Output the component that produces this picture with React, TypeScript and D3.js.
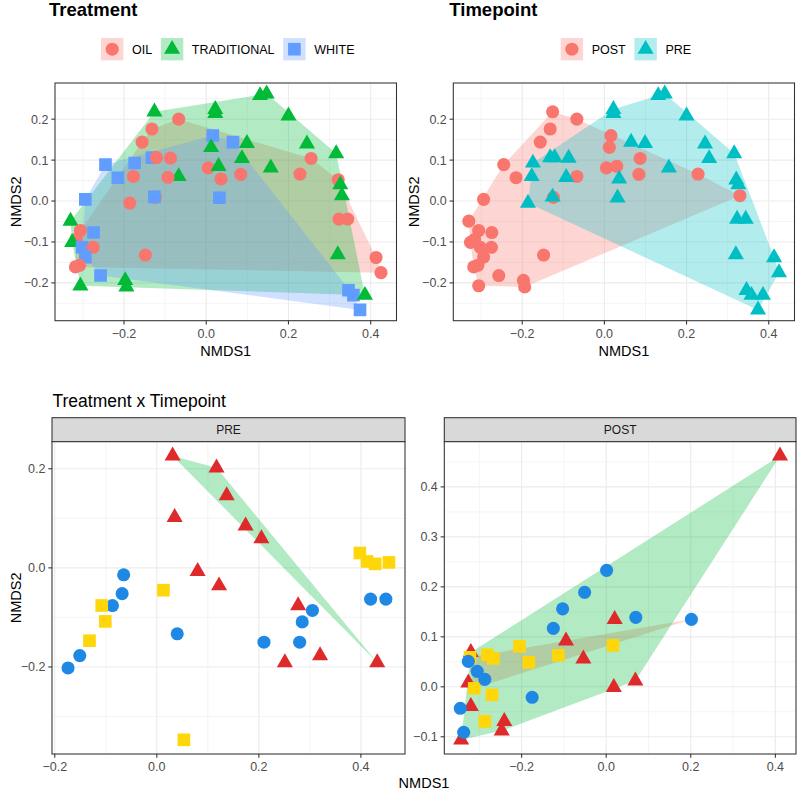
import React from "react";
import * as d3 from "d3";

const FONT = "'Liberation Sans', Arial, Helvetica, sans-serif";

const treatmentLevels = ["OIL", "TRADITIONAL", "WHITE"];
const timepointLevels = ["POST", "PRE"];
const facetLevels = ["PRE", "POST"];
const treatmentColours = ["#F8766D", "#00BA38", "#619CFF"];
const timepointColours = ["#F8766D", "#00BFC4"];

// [NMDS1, NMDS2, treatment, timepoint]
const samples: [number, number, string, string][] = [
  [-0.126, 0.218, "TRADITIONAL", "POST"],
  [-0.067, 0.2, "OIL", "POST"],
  [-0.132, 0.176, "OIL", "POST"],
  [-0.156, 0.144, "OIL", "POST"],
  [0.022, 0.224, "TRADITIONAL", "PRE"],
  [0.022, 0.214, "TRADITIONAL", "PRE"],
  [0.016, 0.16, "WHITE", "POST"],
  [0.065, 0.144, "WHITE", "PRE"],
  [0.012, 0.131, "TRADITIONAL", "POST"],
  [0.099, 0.141, "TRADITIONAL", "PRE"],
  [0.131, 0.258, "TRADITIONAL", "PRE"],
  [0.147, 0.262, "TRADITIONAL", "PRE"],
  [0.2, 0.208, "TRADITIONAL", "PRE"],
  [0.245, 0.14, "TRADITIONAL", "PRE"],
  [0.316, 0.116, "TRADITIONAL", "PRE"],
  [0.255, 0.104, "OIL", "PRE"],
  [-0.245, 0.089, "WHITE", "POST"],
  [-0.174, 0.093, "WHITE", "PRE"],
  [-0.132, 0.106, "WHITE", "PRE"],
  [-0.121, 0.106, "OIL", "PRE"],
  [-0.087, 0.105, "OIL", "PRE"],
  [0.005, 0.081, "OIL", "POST"],
  [0.03, 0.085, "TRADITIONAL", "POST"],
  [0.087, 0.104, "TRADITIONAL", "POST"],
  [0.157, 0.081, "TRADITIONAL", "PRE"],
  [0.228, 0.066, "OIL", "POST"],
  [0.084, 0.065, "OIL", "POST"],
  [0.036, 0.054, "OIL", "PRE"],
  [-0.067, 0.06, "TRADITIONAL", "POST"],
  [-0.093, 0.058, "OIL", "PRE"],
  [-0.215, 0.057, "WHITE", "POST"],
  [-0.177, 0.06, "OIL", "PRE"],
  [-0.124, 0.009, "OIL", "POST"],
  [-0.126, 0.01, "WHITE", "PRE"],
  [0.032, 0.008, "WHITE", "PRE"],
  [-0.294, 0.004, "WHITE", "POST"],
  [-0.186, -0.005, "OIL", "PRE"],
  [0.321, 0.052, "OIL", "PRE"],
  [0.326, 0.04, "TRADITIONAL", "PRE"],
  [0.33, 0.013, "TRADITIONAL", "POST"],
  [0.323, -0.044, "OIL", "PRE"],
  [0.344, -0.044, "OIL", "PRE"],
  [0.32, -0.131, "TRADITIONAL", "PRE"],
  [0.413, -0.138, "OIL", "PRE"],
  [0.425, -0.175, "OIL", "PRE"],
  [0.346, -0.218, "WHITE", "PRE"],
  [0.358, -0.23, "WHITE", "PRE"],
  [0.374, -0.266, "WHITE", "PRE"],
  [0.386, -0.23, "TRADITIONAL", "PRE"],
  [-0.33, -0.049, "TRADITIONAL", "POST"],
  [-0.306, -0.072, "OIL", "POST"],
  [-0.316, -0.094, "OIL", "POST"],
  [-0.274, -0.077, "WHITE", "POST"],
  [-0.326, -0.101, "TRADITIONAL", "POST"],
  [-0.302, -0.113, "WHITE", "POST"],
  [-0.275, -0.113, "OIL", "POST"],
  [-0.294, -0.137, "WHITE", "POST"],
  [-0.318, -0.161, "OIL", "POST"],
  [-0.308, -0.157, "OIL", "POST"],
  [-0.257, -0.182, "WHITE", "POST"],
  [-0.148, -0.132, "OIL", "POST"],
  [-0.306, -0.207, "TRADITIONAL", "POST"],
  [-0.197, -0.194, "TRADITIONAL", "POST"],
  [-0.194, -0.21, "TRADITIONAL", "POST"],
];

// bottom facets: [NMDS1, NMDS2, treatment, hull group]
const preSamples: [number, number, string, string][] = [
  [-0.065, -0.014, "OIL", ""],
  [-0.068, -0.052, "OIL", ""],
  [-0.087, -0.076, "OIL", ""],
  [-0.151, -0.177, "OIL", ""],
  [-0.174, -0.202, "OIL", ""],
  [0.04, -0.133, "OIL", ""],
  [0.21, -0.15, "OIL", ""],
  [0.28, -0.15, "OIL", ""],
  [0.285, -0.109, "OIL", ""],
  [0.305, -0.086, "OIL", ""],
  [0.419, -0.063, "OIL", ""],
  [0.449, -0.063, "OIL", ""],
  [0.031, 0.226, "TRADITIONAL", "b"],
  [0.117, 0.202, "TRADITIONAL", "b"],
  [0.137, 0.146, "TRADITIONAL", "b"],
  [0.174, 0.085, "TRADITIONAL", "b"],
  [0.205, 0.059, "TRADITIONAL", "b"],
  [0.432, -0.191, "TRADITIONAL", "b"],
  [0.035, 0.102, "TRADITIONAL", ""],
  [0.08, -0.007, "TRADITIONAL", ""],
  [0.122, -0.036, "TRADITIONAL", ""],
  [0.277, -0.076, "TRADITIONAL", ""],
  [0.251, -0.191, "TRADITIONAL", ""],
  [0.32, -0.177, "TRADITIONAL", ""],
  [0.398, 0.03, "WHITE", ""],
  [0.412, 0.013, "WHITE", ""],
  [0.428, 0.008, "WHITE", ""],
  [0.455, 0.011, "WHITE", ""],
  [0.013, -0.045, "WHITE", ""],
  [-0.108, -0.076, "WHITE", ""],
  [-0.101, -0.108, "WHITE", ""],
  [-0.132, -0.147, "WHITE", ""],
  [0.053, -0.347, "WHITE", ""],
];

const postSamples: [number, number, string, string][] = [
  [0.411, 0.462, "TRADITIONAL", "b"],
  [0.02, 0.135, "TRADITIONAL", "b"],
  [-0.095, 0.092, "TRADITIONAL", "b"],
  [-0.054, 0.056, "TRADITIONAL", "b"],
  [0.018, -0.001, "TRADITIONAL", "b"],
  [0.069, 0.012, "TRADITIONAL", "b"],
  [-0.32, 0.069, "TRADITIONAL", "b"],
  [-0.326, 0.008, "TRADITIONAL", "b"],
  [-0.32, -0.039, "TRADITIONAL", "b"],
  [-0.241, -0.069, "TRADITIONAL", "b"],
  [-0.247, -0.088, "TRADITIONAL", "b"],
  [-0.343, -0.106, "TRADITIONAL", "b"],
  [0.016, 0.083, "WHITE", ""],
  [-0.205, 0.081, "WHITE", ""],
  [-0.113, 0.063, "WHITE", ""],
  [-0.183, 0.049, "WHITE", ""],
  [-0.281, 0.064, "WHITE", ""],
  [-0.267, 0.057, "WHITE", ""],
  [-0.322, 0.059, "WHITE", "a"],
  [-0.312, -0.003, "WHITE", "a"],
  [-0.27, -0.016, "WHITE", ""],
  [-0.287, -0.069, "WHITE", ""],
  [0.001, 0.233, "OIL", ""],
  [-0.051, 0.189, "OIL", ""],
  [-0.103, 0.156, "OIL", ""],
  [-0.125, 0.117, "OIL", ""],
  [0.07, 0.139, "OIL", ""],
  [0.2015, 0.135, "OIL", "a"],
  [-0.326, 0.051, "OIL", "a"],
  [-0.305, 0.031, "OIL", ""],
  [-0.287, 0.015, "OIL", ""],
  [-0.175, -0.021, "OIL", ""],
  [-0.345, -0.043, "OIL", ""],
  [-0.337, -0.091, "OIL", ""],
];

const facetPointColours: Record<string, string> = {
  OIL: "#1F88E5",
  TRADITIONAL: "#DE2A2A",
  WHITE: "#FFD60A",
};
const facetHullColours: Record<string, string> = { a: "#F8766D", b: "#00BA38" };

const xMajor = [-0.2, 0, 0.2, 0.4];
const xMinor = [-0.3, -0.1, 0.1, 0.3];
const topYMajor = [-0.2, -0.1, 0, 0.1, 0.2];
const topYMinor = [-0.25, -0.15, -0.05, 0.05, 0.15, 0.25];
const preYMajor = [-0.2, 0, 0.2];
const preYMinor = [-0.3, -0.1, 0.1];
const postYMajor = [-0.1, 0, 0.1, 0.2, 0.3, 0.4];
const postYMinor = [-0.05, 0.05, 0.15, 0.25, 0.35, 0.45];

const symbolTypes = [d3.symbolCircle, d3.symbolTriangle, d3.symbolSquare];
const symbolSizes = [135, 112, 160];
const symbolPath = (i: number) => d3.symbol(symbolTypes[i], symbolSizes[i])() as string;

const expand = (vals: number[]): [number, number] => {
  const [a, b] = d3.extent(vals) as [number, number];
  const pad = (b - a) * 0.05;
  return [a - pad, b + pad];
};

const fmt = d3.format(".1f");

let measureCtx: CanvasRenderingContext2D | null = null;
function textWidth(s: string, font: string) {
  if (!measureCtx) measureCtx = document.createElement("canvas").getContext("2d");
  if (!measureCtx) return s.length * 7;
  measureCtx.font = font;
  return measureCtx.measureText(s).width;
}

type Pt = { x: number; y: number; shape: number; colour: string };
type HullGroup = { pts: [number, number][]; colour: string };

function Panel(props: {
  id: string;
  left: number;
  right: number;
  top: number;
  bottom: number;
  xDom: [number, number];
  yDom: [number, number];
  yMajor: number[];
  yMinor: number[];
  points: Pt[];
  hulls: HullGroup[];
}) {
  const { id, left, right, top, bottom, xDom, yDom, yMajor, yMinor, points, hulls } = props;
  const xs = d3.scaleLinear().domain(xDom).range([left, right]);
  const ys = d3.scaleLinear().domain(yDom).range([bottom, top]);
  const inX = (v: number) => v >= xDom[0] && v <= xDom[1];
  const inY = (v: number) => v >= yDom[0] && v <= yDom[1];
  const grid = "#EBEBEB";

  return (
    <g>
      <clipPath id={id}>
        <rect x={left} y={top} width={right - left} height={bottom - top} />
      </clipPath>
      <rect x={left} y={top} width={right - left} height={bottom - top} fill="white" />
      {xMinor.filter(inX).map((v) => (
        <line key={"xm" + v} x1={xs(v)} x2={xs(v)} y1={top} y2={bottom} stroke={grid} strokeWidth={0.55} />
      ))}
      {yMinor.filter(inY).map((v) => (
        <line key={"ym" + v} x1={left} x2={right} y1={ys(v)} y2={ys(v)} stroke={grid} strokeWidth={0.55} />
      ))}
      {xMajor.filter(inX).map((v) => (
        <line key={"xM" + v} x1={xs(v)} x2={xs(v)} y1={top} y2={bottom} stroke={grid} strokeWidth={1.1} />
      ))}
      {yMajor.filter(inY).map((v) => (
        <line key={"yM" + v} x1={left} x2={right} y1={ys(v)} y2={ys(v)} stroke={grid} strokeWidth={1.1} />
      ))}
      <g clipPath={`url(#${id})`}>
        {hulls.map((h, i) => {
          const hull = d3.polygonHull(h.pts.map((p) => [xs(p[0]), ys(p[1])] as [number, number]));
          if (!hull) return null;
          return (
            <path key={"h" + i} d={"M" + hull.map((p) => p.join(",")).join("L") + "Z"} fill={h.colour} fillOpacity={0.3} />
          );
        })}
        {points.map((p, i) => (
          <path
            key={"p" + i}
            d={symbolPath(p.shape)}
            transform={`translate(${xs(p.x)},${ys(p.y)})`}
            fill={p.colour}
          />
        ))}
      </g>
      <rect x={left} y={top} width={right - left} height={bottom - top} fill="none" stroke="#333333" strokeWidth={1.07} />
      {xMajor.filter(inX).map((v) => (
        <g key={"xt" + v}>
          <line x1={xs(v)} x2={xs(v)} y1={bottom} y2={bottom + 3.7} stroke="#333333" strokeWidth={1.07} />
          <text x={xs(v)} y={bottom + 17} textAnchor="middle" fontSize={12.5} fill="#4D4D4D">
            {fmt(v)}
          </text>
        </g>
      ))}
      {yMajor.filter(inY).map((v) => (
        <g key={"yt" + v}>
          <line x1={left - 3.7} x2={left} y1={ys(v)} y2={ys(v)} stroke="#333333" strokeWidth={1.07} />
          <text x={left - 6.5} y={ys(v) + 4.4} textAnchor="end" fontSize={12.5} fill="#4D4D4D">
            {fmt(v)}
          </text>
        </g>
      ))}
    </g>
  );
}

function Legend(props: { cx: number; cy: number; labels: string[]; colours: string[] }) {
  const { cx, cy, labels, colours } = props;
  const font = `12.5px ${FONT}`;
  const key = 22.4;
  const widths = labels.map((l) => textWidth(l, font));
  const total = d3.sum(widths) + labels.length * (key + 8.6) + (labels.length - 1) * 8.7;
  let x = cx - total / 2;
  return (
    <g>
      {labels.map((l, i) => {
        const x0 = x;
        x += key + 8.6 + widths[i] + 8.7;
        return (
          <g key={l}>
            <rect x={x0} y={cy - key / 2} width={key} height={key} fill={colours[i]} fillOpacity={0.3} />
            <path d={symbolPath(i)} transform={`translate(${x0 + key / 2},${cy})`} fill={colours[i]} />
            <text x={x0 + key + 8.6} y={cy + 4.5} fontSize={12.5} fill="black">
              {l}
            </text>
          </g>
        );
      })}
    </g>
  );
}

function Strip(props: { left: number; right: number; top: number; bottom: number; label: string }) {
  const { left, right, top, bottom, label } = props;
  return (
    <g>
      <rect x={left} y={top} width={right - left} height={bottom - top} fill="#D9D9D9" stroke="#333333" strokeWidth={1.07} />
      <text x={(left + right) / 2} y={(top + bottom) / 2 + 4.2} textAnchor="middle" fontSize={12} fill="#1A1A1A">
        {label}
      </text>
    </g>
  );
}

export default function App() {
  const topX = expand(samples.map((d) => d[0]));
  const topY = expand(samples.map((d) => d[1]));

  const tlPoints: Pt[] = samples.map((d) => {
    const i = treatmentLevels.indexOf(d[2]);
    return { x: d[0], y: d[1], shape: i, colour: treatmentColours[i] };
  });
  const tlHulls: HullGroup[] = treatmentLevels.map((t, i) => ({
    pts: samples.filter((d) => d[2] === t).map((d) => [d[0], d[1]] as [number, number]),
    colour: treatmentColours[i],
  }));
  const trPoints: Pt[] = samples.map((d) => {
    const i = timepointLevels.indexOf(d[3]);
    return { x: d[0], y: d[1], shape: i, colour: timepointColours[i] };
  });
  const trHulls: HullGroup[] = timepointLevels.map((t, i) => ({
    pts: samples.filter((d) => d[3] === t).map((d) => [d[0], d[1]] as [number, number]),
    colour: timepointColours[i],
  }));

  const facetPoints = (rows: [number, number, string, string][]): Pt[] =>
    rows.map((d) => ({ x: d[0], y: d[1], shape: treatmentLevels.indexOf(d[2]), colour: facetPointColours[d[2]] }));
  const facetHulls = (rows: [number, number, string, string][]): HullGroup[] =>
    Object.keys(facetHullColours)
      .map((g) => ({
        pts: rows.filter((d) => d[3] === g).map((d) => [d[0], d[1]] as [number, number]),
        colour: facetHullColours[g],
      }))
      .filter((h) => h.pts.length >= 3);

  const tl = { left: 55, right: 396.5, top: 83, bottom: 320.7 };
  const tr = { left: 453.3, right: 794.5, top: 83, bottom: 320.7 };
  const bl = { left: 52, right: 405, top: 441.7, bottom: 754 };
  const br = { left: 444.3, right: 796, top: 441.7, bottom: 754 };
  const stripTop = 417.7;

  return (
    <svg
      width={800}
      height={790}
      style={{ position: "absolute", left: 0, top: 0, background: "white" }}
      fontFamily={FONT}
    >
      <rect width={800} height={790} fill="white" />

      {/* Treatment */}
      <text x={49} y={16} fontSize={18.5} fontWeight="bold" fill="black">
        Treatment
      </text>
      <Legend cx={(tl.left + tl.right) / 2 + 2} cy={49.2} labels={treatmentLevels} colours={treatmentColours} />
      <Panel id="clip-tl" {...tl} xDom={topX} yDom={topY} yMajor={topYMajor} yMinor={topYMinor} points={tlPoints} hulls={tlHulls} />
      <text x={(tl.left + tl.right) / 2} y={356} textAnchor="middle" fontSize={14.5} fill="black">
        NMDS1
      </text>
      <text transform={`translate(21,${(tl.top + tl.bottom) / 2}) rotate(-90)`} textAnchor="middle" fontSize={14.5} fill="black">
        NMDS2
      </text>

      {/* Timepoint */}
      <text x={449.3} y={16} fontSize={18.5} fontWeight="bold" fill="black">
        Timepoint
      </text>
      <Legend cx={(tr.left + tr.right) / 2 + 2} cy={49.2} labels={timepointLevels} colours={timepointColours} />
      <Panel id="clip-tr" {...tr} xDom={topX} yDom={topY} yMajor={topYMajor} yMinor={topYMinor} points={trPoints} hulls={trHulls} />
      <text x={(tr.left + tr.right) / 2} y={356} textAnchor="middle" fontSize={14.5} fill="black">
        NMDS1
      </text>
      <text transform={`translate(419,${(tr.top + tr.bottom) / 2}) rotate(-90)`} textAnchor="middle" fontSize={14.5} fill="black">
        NMDS2
      </text>

      {/* Treatment x Timepoint */}
      <text x={52.5} y={406.5} fontSize={17.5} fill="black">
        Treatment x Timepoint
      </text>
      <Strip left={bl.left} right={bl.right} top={stripTop} bottom={bl.top} label={facetLevels[0]} />
      <Panel
        id="clip-bl"
        {...bl}
        xDom={expand(preSamples.map((d) => d[0]))}
        yDom={expand(preSamples.map((d) => d[1]))}
        yMajor={preYMajor}
        yMinor={preYMinor}
        points={facetPoints(preSamples)}
        hulls={facetHulls(preSamples)}
      />
      <Strip left={br.left} right={br.right} top={stripTop} bottom={br.top} label={facetLevels[1]} />
      <Panel
        id="clip-br"
        {...br}
        xDom={expand(postSamples.map((d) => d[0]))}
        yDom={expand(postSamples.map((d) => d[1]))}
        yMajor={postYMajor}
        yMinor={postYMinor}
        points={facetPoints(postSamples)}
        hulls={facetHulls(postSamples)}
      />
      <text x={424} y={788} textAnchor="middle" fontSize={14.5} fill="black">
        NMDS1
      </text>
      <text transform={`translate(21,${(bl.top + bl.bottom) / 2}) rotate(-90)`} textAnchor="middle" fontSize={14.5} fill="black">
        NMDS2
      </text>
    </svg>
  );
}
